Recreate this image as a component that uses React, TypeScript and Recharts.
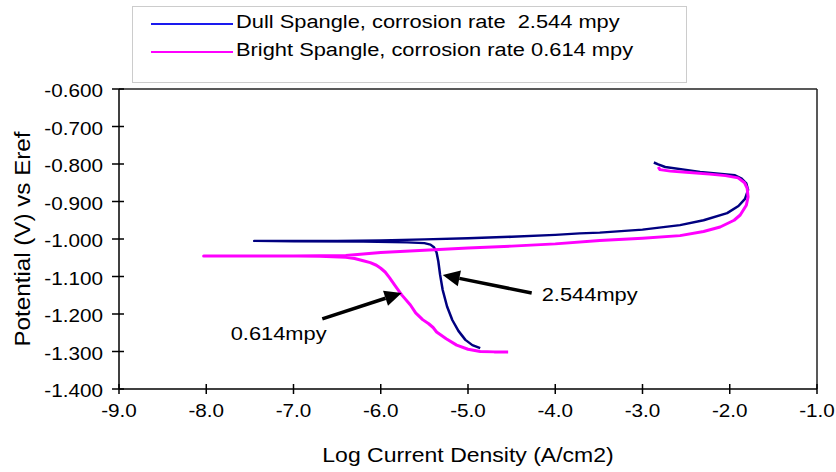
import React from "react";
import {
  LineChart,
  Line,
  XAxis,
  YAxis,
  Legend,
  ReferenceLine,
  ReferenceDot,
} from "recharts";

// dull spangle scan: cathodic end -> Ecorr -> anodic end
const dullLogI = [
  -4.86, -4.95, -5.03, -5.11, -5.18, -5.24, -5.29, -5.32, -5.34, -5.36, -5.39,
  -5.43, -5.5, -5.7, -6.2, -7.0, -7.45, -7.0, -6.5, -6.0, -5.5, -5.0, -4.5,
  -4.0, -3.72, -3.49, -3.0, -2.57, -2.3, -2.03, -1.9, -1.825, -1.79, -1.81,
  -1.87, -1.94, -2.34, -2.74, -2.82, -2.87,
];
const dullE = [
  -1.291, -1.283, -1.269, -1.245, -1.216, -1.18, -1.136, -1.095, -1.06,
  -1.036, -1.022, -1.015, -1.011, -1.009, -1.007, -1.006, -1.005, -1.005,
  -1.005, -1.004, -1.001, -0.998, -0.994, -0.989, -0.985, -0.983, -0.975,
  -0.963, -0.95, -0.931, -0.912, -0.893, -0.869, -0.852, -0.838, -0.83,
  -0.821, -0.808, -0.801, -0.796,
];

// bright spangle scan
const brightLogI = [
  -4.54, -4.7, -4.86, -5.0, -5.13, -5.25, -5.36, -5.4, -5.45, -5.52, -5.6,
  -5.66, -5.76, -5.84, -5.9, -5.95, -6.0, -6.05, -6.12, -6.2, -6.3, -6.4,
  -6.7, -7.2, -8.03, -7.5, -7.0, -6.4, -6.0, -5.5, -5.0, -4.5, -4.0, -3.49,
  -3.0, -2.57, -2.3, -2.11, -1.95, -1.88, -1.81, -1.79, -1.8, -1.83, -1.905,
  -2.05, -2.23, -2.5, -2.68, -2.8, -2.82,
];
const brightE = [
  -1.301, -1.301, -1.3, -1.294, -1.283, -1.266, -1.248, -1.236, -1.226,
  -1.215, -1.197, -1.176, -1.149, -1.123, -1.103, -1.088, -1.078, -1.07,
  -1.063, -1.058, -1.052, -1.049, -1.046, -1.045, -1.045, -1.045, -1.045,
  -1.044, -1.036, -1.03, -1.024, -1.019, -1.013, -1.004, -0.998, -0.991,
  -0.98, -0.968, -0.95, -0.936, -0.91, -0.888, -0.865, -0.85, -0.837,
  -0.831, -0.827, -0.822, -0.819, -0.815, -0.808,
];

const xTicks = [-9, -8, -7, -6, -5, -4, -3, -2, -1];
const yTicks = [-1.4, -1.3, -1.2, -1.1, -1.0, -0.9, -0.8, -0.7, -0.6];

const dullLabel = "Dull Spangle, corrosion rate  2.544 mpy";
const brightLabel = "Bright Spangle, corrosion rate 0.614 mpy";

// annotation arrows (tail -> tip) and their labels
const dullArrow = [
  { x: -4.27, y: -1.144 },
  { x: -5.29, y: -1.096 },
];
const brightArrow = [
  { x: -6.67, y: -1.213 },
  { x: -5.76, y: -1.144 },
];
const dullNote = { x: -4.155, y: -1.165, text: "2.544mpy" };
const brightNote = { x: -7.72, y: -1.269, text: "0.614mpy" };

const dullData = dullLogI.map((x, i) => ({ x, y: dullE[i] }));
const brightData = brightLogI.map((x, i) => ({ x, y: brightE[i] }));

const FONT = "'Liberation Sans', Arial, Helvetica, sans-serif";
const SX = 1.15; // the original text is a bit wide

const YTick = (props: any) => {
  const { x, y, payload } = props;
  return (
    <g>
      <line x1={x + 8} x2={x + 20} y1={y} y2={y} stroke="#000" strokeWidth={1.5} />
      <text
        transform={`translate(${x - 1},${y + 8}) scale(${SX},1)`}
        textAnchor="end"
        fontSize={18}
        fontFamily={FONT}
        fill="#000"
      >
        {payload.value.toFixed(3)}
      </text>
    </g>
  );
};

const XTick = (props: any) => {
  const { x, y, payload } = props;
  return (
    <g>
      <line x1={x} x2={x} y1={y - 4} y2={y - 14} stroke="#000" strokeWidth={1.5} />
      <text
        transform={`translate(${x},${y + 19}) scale(${SX},1)`}
        textAnchor="middle"
        fontSize={18}
        fontFamily={FONT}
        fill="#000"
      >
        {payload.value.toFixed(1)}
      </text>
    </g>
  );
};

const XTitle = (props: any) => {
  const vb = props.viewBox;
  return (
    <text
      transform={`translate(${vb.x + vb.width / 2},${vb.y + 73}) scale(${SX},1)`}
      textAnchor="middle"
      fontSize={20}
      fontFamily={FONT}
      fill="#000"
    >
      Log Current Density (A/cm2)
    </text>
  );
};

const YTitle = (props: any) => {
  const vb = props.viewBox;
  return (
    <text
      transform={`translate(30,${vb.y + vb.height / 2}) rotate(-90) scale(1.1,1)`}
      textAnchor="middle"
      fontSize={22}
      fontFamily={FONT}
      fill="#000"
    >
      Potential (V) vs Eref
    </text>
  );
};

const Arrow = (p: any) => {
  const { x1, y1, x2, y2 } = p;
  const a = Math.atan2(y2 - y1, x2 - x1);
  const len = 17;
  const half = 8;
  const bx = x2 - len * Math.cos(a);
  const by = y2 - len * Math.sin(a);
  const pts = [
    [x2, y2],
    [bx + half * Math.sin(a), by - half * Math.cos(a)],
    [bx - half * Math.sin(a), by + half * Math.cos(a)],
  ]
    .map((q) => q.join(","))
    .join(" ");
  return (
    <g>
      <line x1={x1} y1={y1} x2={bx} y2={by} stroke="#000" strokeWidth={3.5} />
      <polygon points={pts} fill="#000" />
    </g>
  );
};

const noteShape = (text: string) => (p: any) =>
  (
    <text
      transform={`translate(${p.cx},${p.cy}) scale(${SX},1)`}
      fontSize={19}
      fontFamily={FONT}
      fill="#000"
    >
      {text}
    </text>
  );

const LegendBox = () => (
  <svg width={555} height={77} style={{ display: "block" }}>
    <line x1={18} x2={100} y1={17} y2={17} stroke="#1a1aee" strokeWidth={2} />
    <line x1={18} x2={100} y1={45} y2={45} stroke="#ff00ff" strokeWidth={2} />
    <text
      transform={`translate(103,21) scale(${SX},1)`}
      fontSize={19}
      fontFamily={FONT}
      fill="#000"
      style={{ whiteSpace: "pre" }}
    >
      {dullLabel}
    </text>
    <text
      transform={`translate(103,49) scale(${SX},1)`}
      fontSize={19}
      fontFamily={FONT}
      fill="#000"
      style={{ whiteSpace: "pre" }}
    >
      {brightLabel}
    </text>
  </svg>
);

export default function App() {
  return (
    <div style={{ position: "absolute", left: 0, top: 0, background: "#fff" }}>
      <LineChart
        width={836}
        height={472}
        margin={{ top: 89, right: 19, left: 0, bottom: 0 }}
      >
        <XAxis
          type="number"
          dataKey="x"
          domain={[-9, -1]}
          ticks={xTicks}
          allowDataOverflow
          height={83}
          tickSize={5}
          tickMargin={4}
          tickLine={false}
          tick={<XTick />}
          axisLine={{ stroke: "#000", strokeWidth: 1.5 }}
          label={<XTitle />}
        />
        <YAxis
          type="number"
          dataKey="y"
          domain={[-1.4, -0.6]}
          ticks={yTicks}
          allowDataOverflow
          width={119}
          tickSize={6}
          tickMargin={9}
          tickLine={false}
          tick={<YTick />}
          axisLine={{ stroke: "#000", strokeWidth: 1.5 }}
          label={<YTitle />}
        />
        <ReferenceLine y={-0.6} stroke="#222" strokeWidth={1.5} />
        <ReferenceLine x={-1} stroke="#222" strokeWidth={1.5} />
        <Line
          data={dullData}
          dataKey="y"
          name={dullLabel}
          type="linear"
          stroke="#000080"
          strokeWidth={2.5}
          strokeLinejoin="round"
          dot={false}
          isAnimationActive={false}
        />
        <Line
          data={brightData}
          dataKey="y"
          name={brightLabel}
          type="linear"
          stroke="#ff00ff"
          strokeWidth={3}
          strokeLinejoin="round"
          dot={false}
          isAnimationActive={false}
        />
        <ReferenceLine segment={dullArrow} shape={Arrow} />
        <ReferenceLine segment={brightArrow} shape={Arrow} />
        <ReferenceDot x={dullNote.x} y={dullNote.y} r={0} shape={noteShape(dullNote.text)} />
        <ReferenceDot x={brightNote.x} y={brightNote.y} r={0} shape={noteShape(brightNote.text)} />
        <Legend
          layout="horizontal"
          verticalAlign="middle"
          content={() => <LegendBox />}
          wrapperStyle={{
            left: 132,
            top: 6,
            width: 555,
            height: 77,
            border: "1.5px solid #cccccc",
            boxSizing: "border-box",
            background: "#fff",
          }}
        />
      </LineChart>
    </div>
  );
}
